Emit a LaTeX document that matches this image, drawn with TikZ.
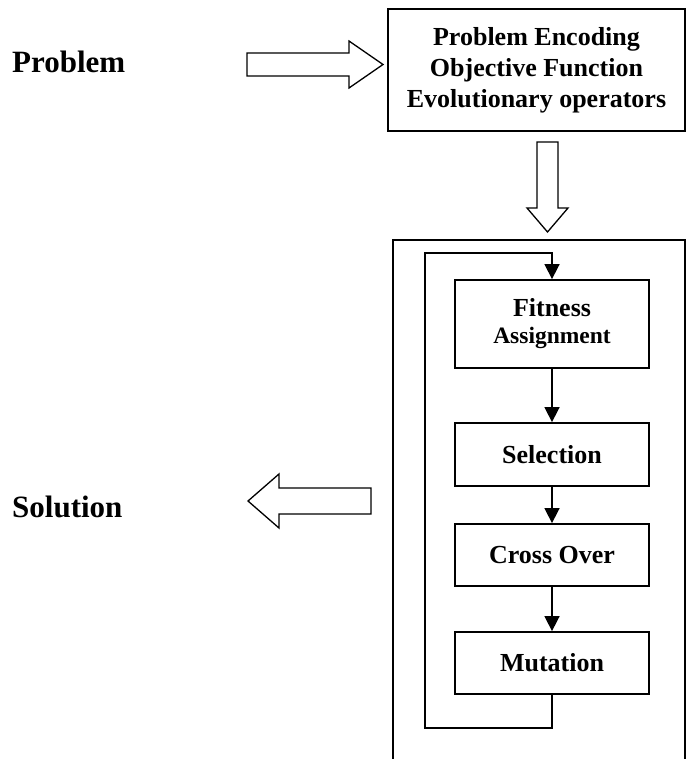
\documentclass[tikz,border=0pt]{standalone}
\usepackage{fontspec}
\setmainfont{Liberation Serif}
\usetikzlibrary{arrows.meta}
\begin{document}
\begin{tikzpicture}[x=1pt,y=-1pt,
  box/.style={draw, line width=1.8pt, inner sep=0pt, align=center,
    font=\fontsize{26}{28}\selectfont\bfseries},
  flow/.style={line width=1.6pt, -{Triangle[width=15pt,length=15pt]}},
  hollow/.style={draw, line width=1.3pt, line join=miter, fill=white},
  frame/.style={line width=1.8pt},
  big/.style={font=\fontsize{31}{34}\selectfont\bfseries, inner sep=0pt, anchor=base west}]
\useasboundingbox (0,0) rectangle (687,759);

% labels
\node[big] (prob) at (12,73) {Problem};
\node[big] (sol) at (12,517) {Solution};

% top box
\node[box, minimum width=297pt, minimum height=122pt,
  font=\fontsize{26}{31}\selectfont\bfseries] (enc) at (536.5,70)
  {Problem Encoding\\Objective Function\\Evolutionary operators};

% outer frame (open at the bottom)
\draw[frame] (393,765) -- (393,240) -- (685,240) -- (685,765);

% inner boxes
\node[box, minimum width=194pt, minimum height=88pt] (fit) at (552,324)
  {Fitness\\[-1pt]{\fontsize{23.5}{26}\selectfont Assignment}};
\node[box, minimum width=194pt, minimum height=63pt] (sel) at (552,454.5) {Selection};
\node[box, minimum width=194pt, minimum height=62pt] (cro) at (552,555) {Cross Over};
\node[box, minimum width=194pt, minimum height=62pt] (mut) at (552,663) {Mutation};

\draw[flow] (fit.south) -- (sel.north);
\draw[flow] (sel.south) -- (cro.north);
\draw[flow] (cro.south) -- (mut.north);

% loop back
\coordinate (lb) at (425,728);
\coordinate (lt) at (425,253);
\draw[flow] (mut.south) |- (lb) -- (lt) -| (fit.north);

% hollow block arrows
\draw[hollow] (247,53) -- (349,53) -- (349,41) -- (383,64.5) -- (349,88) -- (349,76) -- (247,76) -- cycle;
\draw[hollow] (537,142) -- (537,208) -- (527,208) -- (547.5,232) -- (568,208) -- (558,208) -- (558,142) -- cycle;
\draw[hollow] (371,488) -- (279,488) -- (279,474) -- (248,501) -- (279,528) -- (279,514) -- (371,514) -- cycle;
\end{tikzpicture}
\end{document}
